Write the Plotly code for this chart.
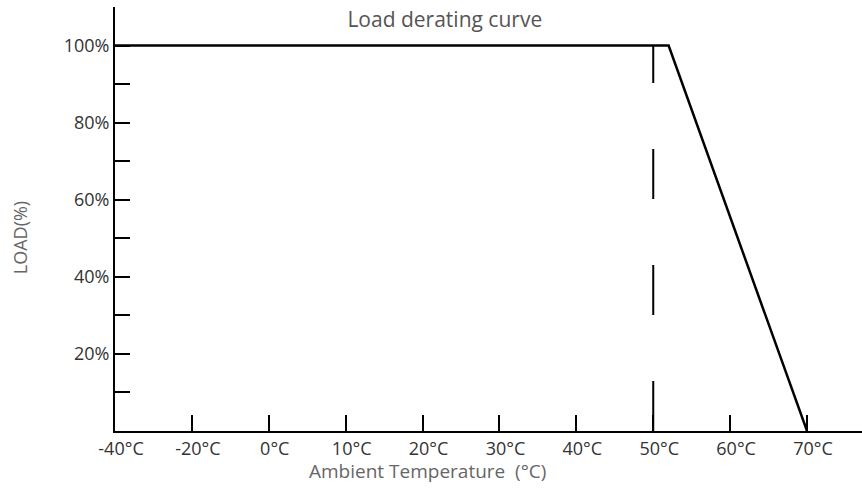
import numpy as np
import plotly.graph_objects as go

# ---- data ----
tick_temps = [-40, -20, 0, 10, 20, 30, 40, 50, 60, 70]
tick_labels = ["-40°C", "-20°C", "0°C", "10°C", "20°C", "30°C", "40°C", "50°C", "60°C", "70°C"]
curve_temp = [-40, 52, 70]
curve_load = [100, 100, 0]
dash_temp = [50, 50]
dash_load = [0, 100]
y_major = [20, 40, 60, 80, 100]
y_major_labels = ["20%", "40%", "60%", "80%", "100%"]
y_minor = [10, 30, 50, 70, 90]

# axis uses evenly spaced tick positions (non-linear temperature scale)
def tpos(t):
    return np.interp(t, tick_temps, np.arange(len(tick_temps)))

fig = go.Figure()
fig.add_trace(go.Scatter(x=tpos(dash_temp), y=dash_load, mode="lines",
                         line=dict(color="black", width=2, dash="50px,66px"),
                         showlegend=False, hoverinfo="skip"))
fig.add_trace(go.Scatter(x=tpos(curve_temp), y=curve_load, mode="lines",
                         line=dict(color="black", width=2.5),
                         showlegend=False))

yvals = sorted(y_major + y_minor)
ytext = [y_major_labels[y_major.index(v)] if v in y_major else "" for v in yvals]

font = "Open Sans, DejaVu Sans, sans-serif"
fig.update_layout(
    width=862, height=488,
    margin=dict(l=115, r=0, t=7, b=57, autoexpand=False),
    plot_bgcolor="white", paper_bgcolor="white",
    title=dict(text="Load derating curve", x=0.516, xref="container", xanchor="center",
               y=0.975, yref="container", yanchor="top", pad=dict(t=0, b=0),
               font=dict(family=font, size=21, color="#555")),
    xaxis=dict(range=[0, 9.715], tickvals=list(tpos(tick_temps)), ticktext=tick_labels,
               ticks="inside", ticklen=16, tickwidth=2, tickcolor="black",
               showline=True, linewidth=2, linecolor="black", showgrid=False, zeroline=False,
               ticklabelshift=6, automargin=False,
               tickfont=dict(family=font, size=18, color="#333")),
    yaxis=dict(range=[0, 110], tickvals=yvals, ticktext=ytext,
               ticks="inside", ticklen=15, tickwidth=2, tickcolor="black",
               showline=True, linewidth=2, linecolor="black", showgrid=False, zeroline=False,
               automargin=False,
               tickfont=dict(family=font, size=18, color="#333")),
    annotations=[
        dict(text="Ambient Temperature  (°C)", xref="paper", yref="paper",
             x=0.419, y=-0.094, xanchor="center", yanchor="middle", showarrow=False,
             font=dict(family=font, size=19, color="#666")),
        dict(text="LOAD(%)", xref="paper", yref="paper", textangle=-90,
             x=-0.127, y=0.455, xanchor="center", yanchor="middle", showarrow=False,
             font=dict(family=font, size=18, color="#666")),
    ],
)
fig.write_html("out.html", config={"displayModeBar": False},
               post_script="document.body.style.margin='0';")
